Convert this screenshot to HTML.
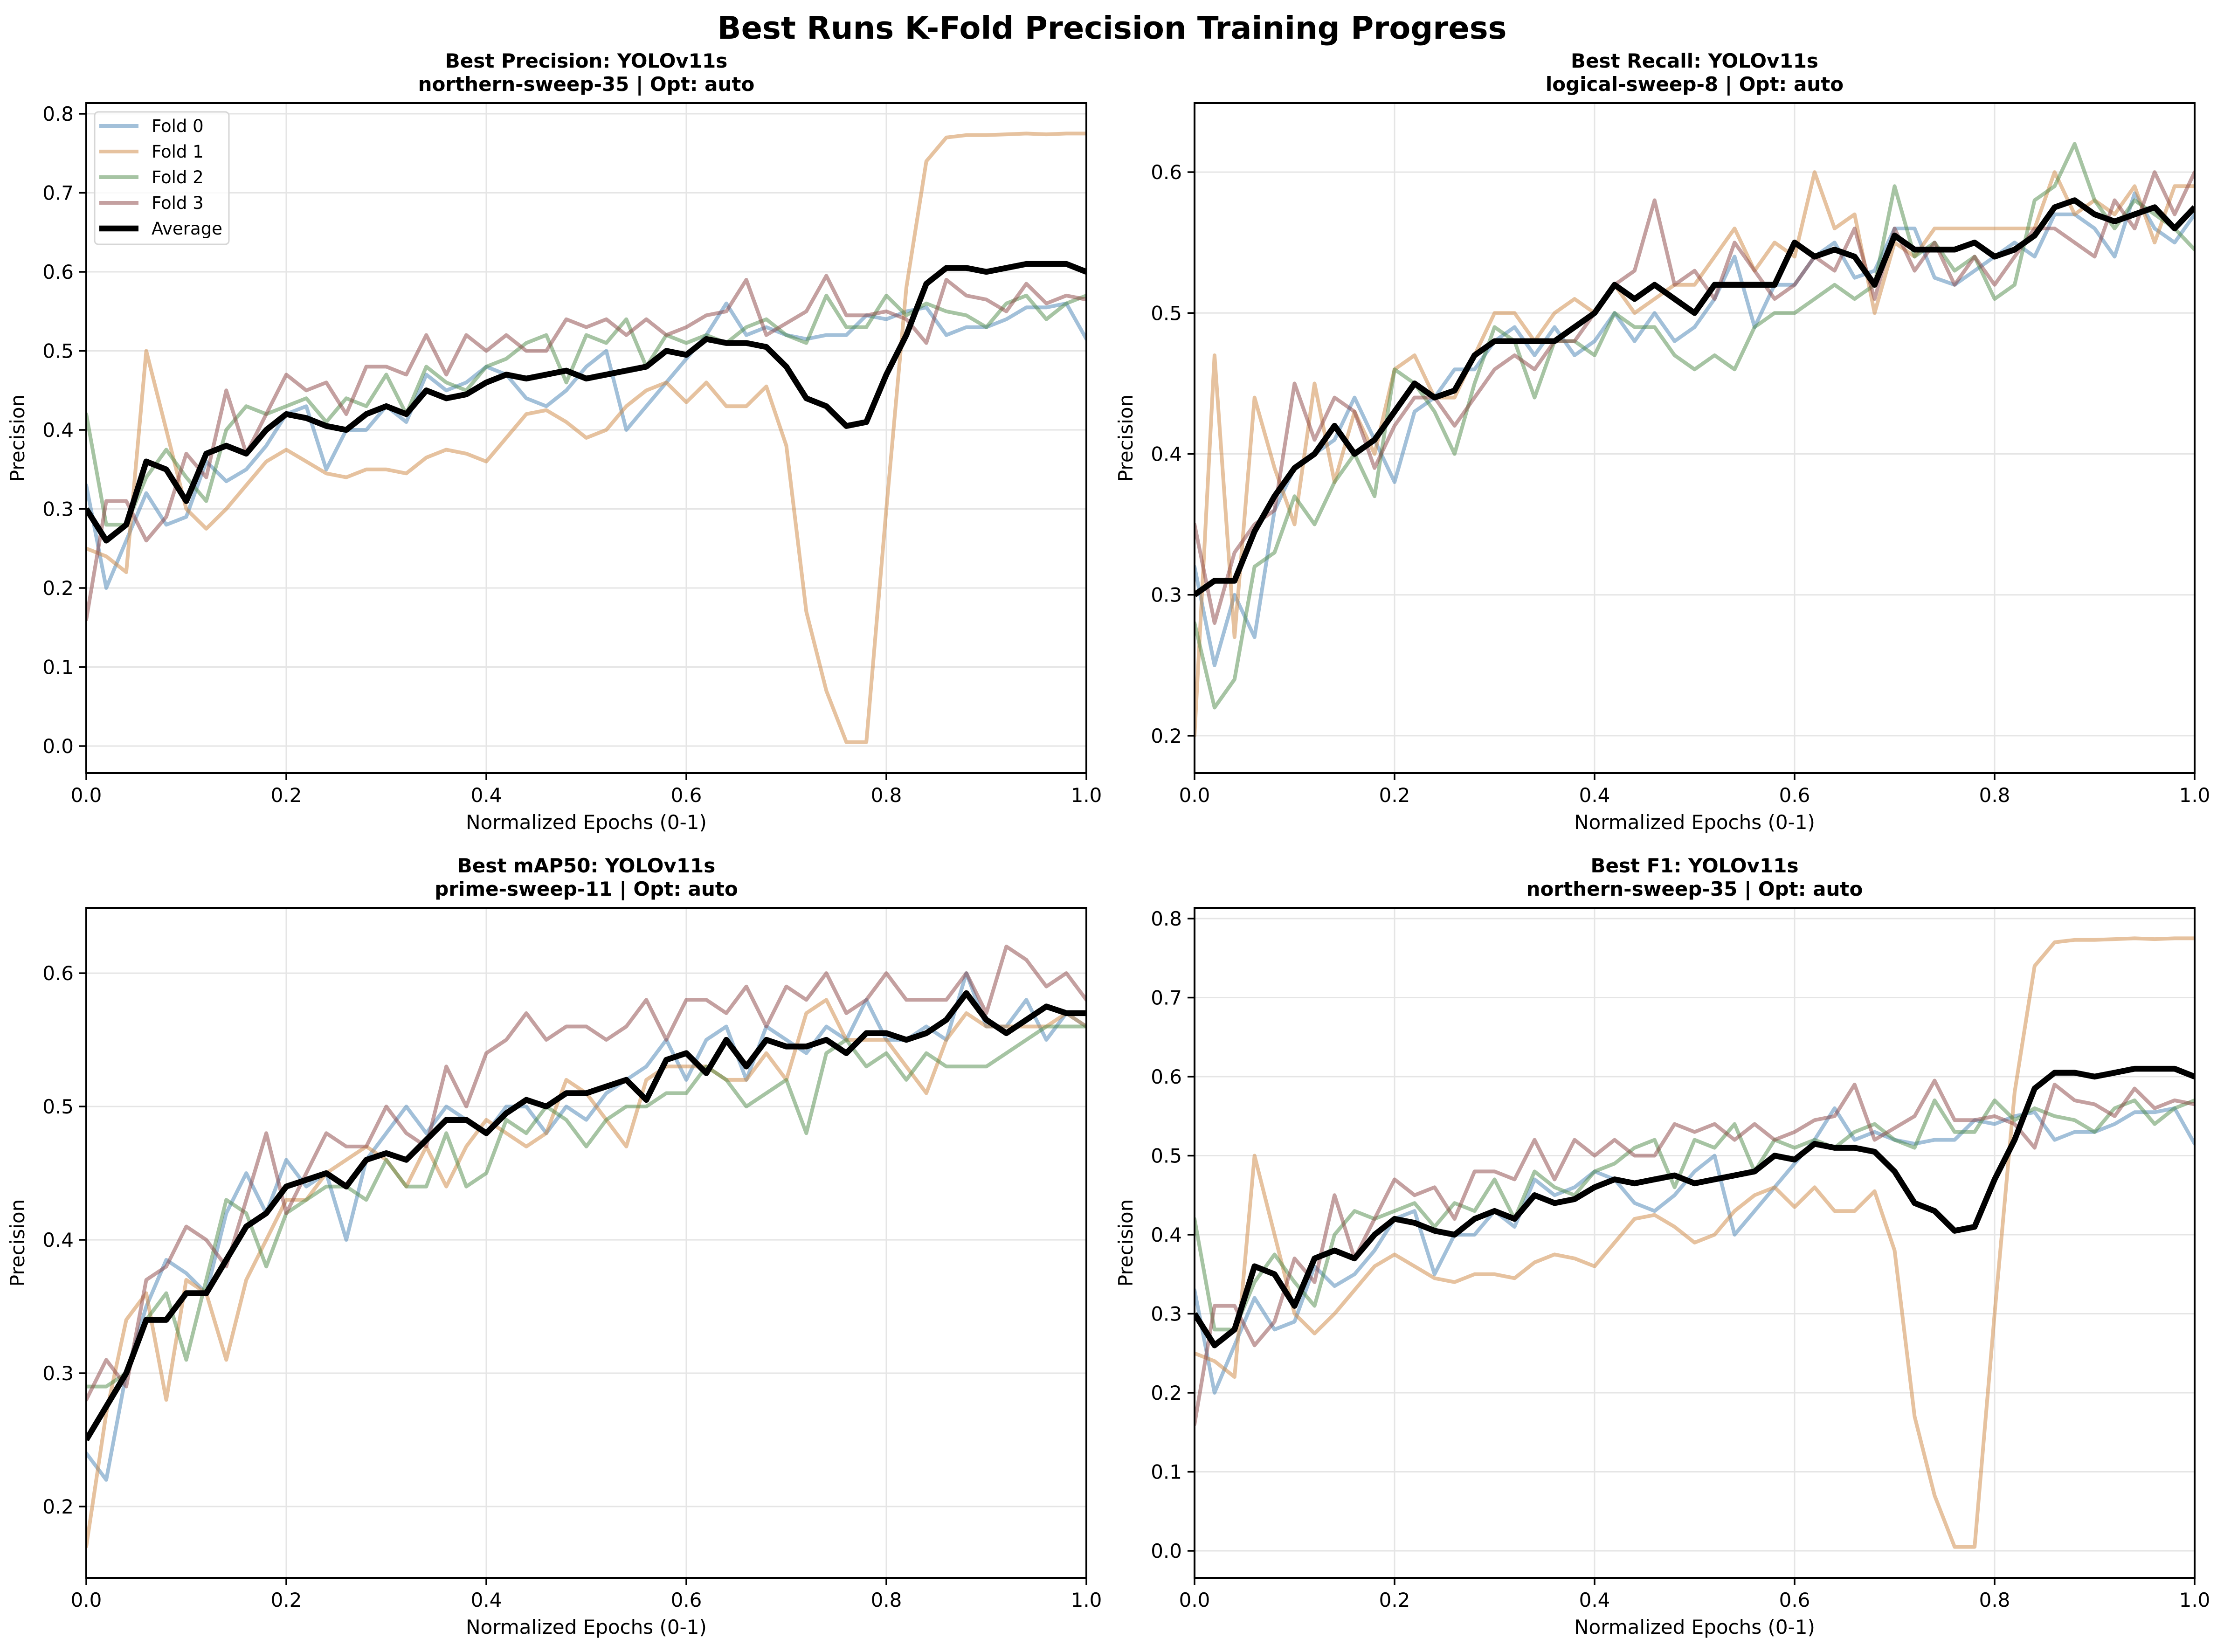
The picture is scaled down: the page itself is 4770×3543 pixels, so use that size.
<!DOCTYPE html>
<html><head><meta charset="utf-8"><title>Best Runs K-Fold Precision Training Progress</title>
<style>html,body{margin:0;padding:0;background:#fff}svg{display:block}text{font-family:"DejaVu Sans","Liberation Sans",sans-serif;fill:#000}</style>
</head><body>
<svg id="fig" xmlns="http://www.w3.org/2000/svg" width="4770" height="3543" viewBox="0 0 4770 3543">
<rect width="4770" height="3543" fill="#fff"/>
<text x="2385" y="83" font-size="67" font-weight="bold" text-anchor="middle">Best Runs K-Fold Precision Training Progress</text>
</svg>
<script>
const xTicks=[0,0.2,0.4,0.6,0.8,1.0];
const xTickLabels=["0.0","0.2","0.4","0.6","0.8","1.0"];
const seriesNames=["Fold 0","Fold 1","Fold 2","Fold 3","Average"];
// Panel A: northern-sweep-35 (used for Precision and F1)
const aFold0=[0.33,0.20,0.26,0.32,0.28,0.29,0.36,0.335,0.35,0.38,0.42,0.43,0.35,0.40,0.40,0.43,0.41,0.47,0.45,0.46,0.48,0.47,0.44,0.43,0.45,0.48,0.50,0.40,0.43,0.46,0.49,0.52,0.56,0.52,0.53,0.52,0.515,0.52,0.52,0.545,0.54,0.55,0.555,0.52,0.53,0.53,0.54,0.555,0.555,0.56,0.515];
const aFold1=[0.25,0.24,0.22,0.50,0.40,0.30,0.275,0.30,0.33,0.36,0.375,0.36,0.345,0.34,0.35,0.35,0.345,0.365,0.375,0.37,0.36,0.39,0.42,0.425,0.41,0.39,0.40,0.43,0.45,0.46,0.435,0.46,0.43,0.43,0.455,0.38,0.17,0.07,0.005,0.005,0.30,0.58,0.74,0.77,0.773,0.773,0.774,0.775,0.774,0.775,0.775];
const aFold2=[0.42,0.28,0.28,0.34,0.375,0.34,0.31,0.40,0.43,0.42,0.43,0.44,0.41,0.44,0.43,0.47,0.42,0.48,0.46,0.45,0.48,0.49,0.51,0.52,0.46,0.52,0.51,0.54,0.48,0.52,0.51,0.52,0.51,0.53,0.54,0.52,0.51,0.57,0.53,0.53,0.57,0.545,0.56,0.55,0.545,0.53,0.56,0.57,0.54,0.56,0.57];
const aFold3=[0.16,0.31,0.31,0.26,0.29,0.37,0.34,0.45,0.37,0.42,0.47,0.45,0.46,0.42,0.48,0.48,0.47,0.52,0.47,0.52,0.50,0.52,0.50,0.50,0.54,0.53,0.54,0.52,0.54,0.52,0.53,0.545,0.55,0.59,0.52,0.535,0.55,0.595,0.545,0.545,0.55,0.54,0.51,0.59,0.57,0.565,0.55,0.585,0.56,0.57,0.565];
const aAvg=[0.30,0.26,0.28,0.36,0.35,0.31,0.37,0.38,0.37,0.40,0.42,0.415,0.405,0.40,0.42,0.43,0.42,0.45,0.44,0.445,0.46,0.47,0.465,0.47,0.475,0.465,0.47,0.475,0.48,0.50,0.495,0.515,0.51,0.51,0.505,0.48,0.44,0.43,0.405,0.41,0.47,0.52,0.585,0.605,0.605,0.60,0.605,0.61,0.61,0.61,0.60];
// Panel B: logical-sweep-8 (Recall)
const bFold0=[0.32,0.25,0.30,0.27,0.36,0.39,0.40,0.41,0.44,0.41,0.38,0.43,0.44,0.46,0.46,0.48,0.49,0.47,0.49,0.47,0.48,0.50,0.48,0.50,0.48,0.49,0.51,0.54,0.49,0.52,0.52,0.54,0.55,0.525,0.53,0.56,0.56,0.525,0.52,0.53,0.54,0.55,0.54,0.57,0.57,0.56,0.54,0.585,0.56,0.55,0.57];
const bFold1=[0.20,0.47,0.27,0.44,0.39,0.35,0.45,0.38,0.43,0.40,0.46,0.47,0.44,0.44,0.47,0.50,0.50,0.48,0.50,0.51,0.50,0.52,0.50,0.51,0.52,0.52,0.54,0.56,0.53,0.55,0.54,0.60,0.56,0.57,0.50,0.55,0.54,0.56,0.56,0.56,0.56,0.56,0.56,0.60,0.57,0.58,0.57,0.59,0.55,0.59,0.59];
const bFold2=[0.28,0.22,0.24,0.32,0.33,0.37,0.35,0.38,0.40,0.37,0.46,0.45,0.43,0.40,0.45,0.49,0.48,0.44,0.48,0.48,0.47,0.50,0.49,0.49,0.47,0.46,0.47,0.46,0.49,0.50,0.50,0.51,0.52,0.51,0.52,0.59,0.54,0.55,0.53,0.54,0.51,0.52,0.58,0.59,0.62,0.58,0.56,0.58,0.57,0.56,0.545];
const bFold3=[0.35,0.28,0.33,0.35,0.36,0.45,0.41,0.44,0.43,0.39,0.42,0.44,0.44,0.42,0.44,0.46,0.47,0.46,0.48,0.48,0.50,0.52,0.53,0.58,0.52,0.53,0.51,0.55,0.53,0.51,0.52,0.54,0.53,0.56,0.51,0.56,0.53,0.55,0.52,0.54,0.52,0.54,0.56,0.56,0.55,0.54,0.58,0.56,0.60,0.57,0.60];
const bAvg=[0.30,0.31,0.31,0.345,0.37,0.39,0.40,0.42,0.40,0.41,0.43,0.45,0.44,0.445,0.47,0.48,0.48,0.48,0.48,0.49,0.50,0.52,0.51,0.52,0.51,0.50,0.52,0.52,0.52,0.52,0.55,0.54,0.545,0.54,0.52,0.555,0.545,0.545,0.545,0.55,0.54,0.545,0.555,0.575,0.58,0.57,0.565,0.57,0.575,0.56,0.575];
// Panel C: prime-sweep-11 (mAP50)
const cFold0=[0.24,0.22,0.30,0.35,0.385,0.375,0.36,0.42,0.45,0.42,0.46,0.44,0.45,0.40,0.46,0.48,0.50,0.48,0.50,0.49,0.48,0.50,0.50,0.48,0.50,0.49,0.51,0.52,0.53,0.55,0.52,0.55,0.56,0.52,0.56,0.55,0.54,0.56,0.55,0.58,0.55,0.55,0.56,0.55,0.60,0.56,0.56,0.58,0.55,0.57,0.56];
const cFold1=[0.17,0.27,0.34,0.36,0.28,0.37,0.36,0.31,0.37,0.40,0.43,0.43,0.45,0.46,0.47,0.46,0.44,0.47,0.44,0.47,0.49,0.48,0.47,0.48,0.52,0.51,0.49,0.47,0.52,0.53,0.53,0.53,0.52,0.52,0.54,0.52,0.57,0.58,0.55,0.55,0.55,0.53,0.51,0.55,0.57,0.56,0.56,0.56,0.56,0.57,0.56];
const cFold2=[0.29,0.29,0.30,0.34,0.36,0.31,0.37,0.43,0.42,0.38,0.42,0.43,0.44,0.44,0.43,0.46,0.44,0.44,0.48,0.44,0.45,0.49,0.48,0.50,0.49,0.47,0.49,0.50,0.50,0.51,0.51,0.53,0.52,0.50,0.51,0.52,0.48,0.54,0.55,0.53,0.54,0.52,0.54,0.53,0.53,0.53,0.54,0.55,0.56,0.56,0.56];
const cFold3=[0.28,0.31,0.29,0.37,0.38,0.41,0.40,0.38,0.43,0.48,0.42,0.45,0.48,0.47,0.47,0.50,0.48,0.47,0.53,0.50,0.54,0.55,0.57,0.55,0.56,0.56,0.55,0.56,0.58,0.55,0.58,0.58,0.57,0.59,0.56,0.59,0.58,0.60,0.57,0.58,0.60,0.58,0.58,0.58,0.60,0.57,0.62,0.61,0.59,0.60,0.58];
const cAvg=[0.25,0.275,0.30,0.34,0.34,0.36,0.36,0.385,0.41,0.42,0.44,0.445,0.45,0.44,0.46,0.465,0.46,0.475,0.49,0.49,0.48,0.495,0.505,0.50,0.51,0.51,0.515,0.52,0.505,0.535,0.54,0.525,0.55,0.53,0.55,0.545,0.545,0.55,0.54,0.555,0.555,0.55,0.555,0.565,0.585,0.565,0.555,0.565,0.575,0.57,0.57];
const yTicksA=[0,0.1,0.2,0.3,0.4,0.5,0.6,0.7,0.8];
const yTicksB=[0.2,0.3,0.4,0.5,0.6];
const yTicksC=[0.2,0.3,0.4,0.5,0.6];

const NS="http://www.w3.org/2000/svg";
const svg=document.getElementById('fig');
function mk(tag,attrs,parent){const e=document.createElementNS(NS,tag);for(const k in attrs)e.setAttribute(k,attrs[k]);(parent||svg).appendChild(e);return e;}
const colors=["#4682b4","#cd853f","#4e8a48","#8a4242"];
const panels=[
 {key:"precision",x0:185,y0:221,t1:"Best Precision: YOLOv11s",t2:"northern-sweep-35 | Opt: auto",ymin:-0.0342,ymax:0.8136,ticks:yTicksA,folds:[aFold0,aFold1,aFold2,aFold3],avg:aAvg,legend:true},
 {key:"recall",x0:2562,y0:221,t1:"Best Recall: YOLOv11s",t2:"logical-sweep-8 | Opt: auto",ymin:0.1735,ymax:0.649,ticks:yTicksB,folds:[bFold0,bFold1,bFold2,bFold3],avg:bAvg},
 {key:"map50",x0:185,y0:1947,t1:"Best mAP50: YOLOv11s",t2:"prime-sweep-11 | Opt: auto",ymin:0.1465,ymax:0.649,ticks:yTicksC,folds:[cFold0,cFold1,cFold2,cFold3],avg:cAvg},
 {key:"f1",x0:2562,y0:1947,t1:"Best F1: YOLOv11s",t2:"northern-sweep-35 | Opt: auto",ymin:-0.0342,ymax:0.8136,ticks:yTicksA,folds:[aFold0,aFold1,aFold2,aFold3],avg:aAvg}
];
const W=2145,H=1437;
panels.forEach(p=>{
 const g=mk('g',{});
 
 
 const sx=v=>p.x0+v*W;
 const sy=v=>p.y0+H-(v-p.ymin)/(p.ymax-p.ymin)*H;
 const gg=mk('g',{},g);
 
 
 xTicks.forEach(t=>{mk('line',{x1:sx(t),x2:sx(t),y1:p.y0,y2:p.y0+H,stroke:'#e5e5e5','stroke-width':3},gg);});
 p.ticks.forEach(t=>{mk('line',{x1:p.x0,x2:p.x0+W,y1:sy(t),y2:sy(t),stroke:'#e5e5e5','stroke-width':3},gg);});
 const clip=mk('clipPath',{id:'clip-'+p.key},g);
 mk('rect',{x:p.x0,y:p.y0,width:W,height:H},clip);
 const lines=mk('g',{'clip-path':'url(#clip-'+p.key+')'},g);
 p.folds.forEach((arr,i)=>{
  const pts=arr.map((v,j)=>sx(j/(arr.length-1)).toFixed(1)+','+sy(v).toFixed(1)).join(' ');
  const pl=mk('polyline',{points:pts,fill:'none',stroke:colors[i],'stroke-opacity':0.5,'stroke-width':8,'stroke-linejoin':'round','stroke-linecap':'round'},lines);
  
  
 });
 const apts=p.avg.map((v,j)=>sx(j/(p.avg.length-1)).toFixed(1)+','+sy(v).toFixed(1)).join(' ');
 const al=mk('polyline',{points:apts,fill:'none',stroke:'#000','stroke-width':12.5,'stroke-linejoin':'round'},lines);
 
 
 const fr=mk('rect',{x:p.x0,y:p.y0,width:W,height:H,fill:'none',stroke:'#000','stroke-width':4},g);
 
 
 xTicks.forEach((t,i)=>{
  mk('line',{x1:sx(t),x2:sx(t),y1:p.y0+H,y2:p.y0+H+15,stroke:'#000','stroke-width':3.5},g);
  const tx=mk('text',{x:sx(t),y:p.y0+H+62,'font-size':42,'text-anchor':'middle'},g);
  tx.textContent=xTickLabels[i];
  
  
 });
 p.ticks.forEach(t=>{
  mk('line',{x1:p.x0-15,x2:p.x0,y1:sy(t),y2:sy(t),stroke:'#000','stroke-width':3.5},g);
  const tx=mk('text',{x:p.x0-27,y:sy(t)+15,'font-size':42,'text-anchor':'end'},g);
  tx.textContent=t.toFixed(1);
  
  
 });
 const cx=p.x0+W/2;
 const tA=mk('text',{x:cx,y:p.y0-76,'font-size':42,'font-weight':'bold','text-anchor':'middle'},g);
 tA.textContent=p.t1;
 
 
 const tB=mk('text',{x:cx,y:p.y0-26,'font-size':42,'font-weight':'bold','text-anchor':'middle'},g);
 tB.textContent=p.t2;
 
 
 const xl=mk('text',{x:cx,y:p.y0+H+120,'font-size':42,'text-anchor':'middle'},g);
 xl.textContent='Normalized Epochs (0-1)';
 
 
 const yx=p.x0-133, yy=p.y0+H/2;
 const yl=mk('text',{x:yx,y:yy,'font-size':42,'text-anchor':'middle',transform:'rotate(-90 '+yx+' '+yy+')'},g);
 yl.textContent='Precision';
 
 
 if(p.legend){
  const lg=mk('g',{},g);
  
  
  mk('rect',{x:203,y:240,width:288,height:284,rx:8,fill:'#fff','fill-opacity':0.8,stroke:'#d6d6d6','stroke-width':3},lg);
  seriesNames.forEach((n,i)=>{
   const y=270+i*55;
   const ln=mk('line',{x1:213,x2:297,y1:y,y2:y,stroke:i<4?colors[i]:'#000','stroke-opacity':i<4?0.5:1,'stroke-width':i<4?8:12.5},lg);
   
   
   const t=mk('text',{x:325,y:y+13,'font-size':37},lg);
   t.textContent=n;
   
   
  });
 }
});
</script>
</body></html>
